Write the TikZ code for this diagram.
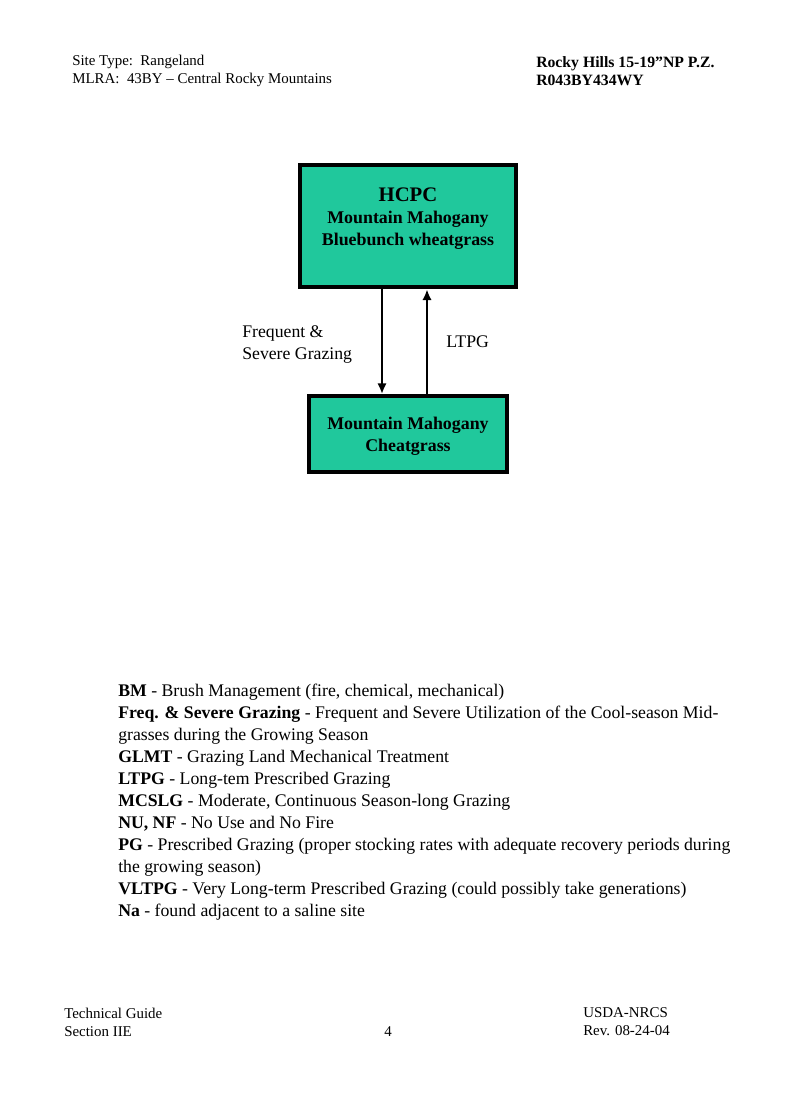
\documentclass[tikz,border=0pt]{standalone}
\usepackage{fontspec}
\setmainfont{Liberation Serif}
\usetikzlibrary{arrows.meta}
\definecolor{stategreen}{RGB}{32,200,156}

\begin{document}
\begin{tikzpicture}[x=0.75pt,y=-0.75pt,
    statebox/.style={draw,line width=3pt,fill=stategreen,inner sep=0pt},
    boxtext/.style={align=center,inner sep=0pt,
      font=\fontsize{13.4}{16.5}\selectfont\bfseries},
    trans/.style={line width=2pt,-{Latex[length=8pt,width=7pt]}},
    head/.style={anchor=west,align=left,inner sep=0pt,
      font=\fontsize{11.2}{13.5}\selectfont}]
  \useasboundingbox[fill=white] (0,0) rectangle (800,1108);
   \coordinate (Downx) at (382,0);
   \coordinate (Upx) at (427,0);
  % page header
  \node[head] (sitetype) at (72,71) {Site Type:\ \ Rangeland\\MLRA:\ \ 43BY -- Central Rocky Mountains};
  \node[head,font=\fontsize{11.8}{13.5}\selectfont\bfseries] (siteid) at (536,71) {Rocky Hills 15-19''NP P.Z.\\R043BY434WY};
  % states
  \node[statebox,minimum width=162pt,minimum height=92pt] (hcpc) at (408,226) {};
  \node[boxtext] (hcpctext) at (408,219)
    {{\fontsize{15.5}{18}\selectfont HCPC}\\Mountain Mahogany\\Bluebunch wheatgrass};
  \node[statebox,minimum width=148pt,minimum height=57pt] (cheat) at (408,434) {};
  \node[boxtext] (cheattext) at (408,436) {Mountain Mahogany\\Cheatgrass};
 \draw [trans] (hcpc.south -| Downx) -- (cheat.north -| Downx);
 \draw [trans] (cheat.north -| Upx) -- (hcpc.south -| Upx);
  \node[head,font=\fontsize{13.3}{16.5}\selectfont] (fsg) at (242,345) {Frequent \&\\Severe Grazing};
  \node[head,font=\fontsize{13.3}{16.5}\selectfont] (ltpg) at (446,342) {LTPG};
  % legend
  \node[head,anchor=north west,font=\fontsize{13.3}{16.5}\selectfont] (legend) at (118,684)
    {\textbf{BM} - Brush Management (fire, chemical, mechanical)\\
     \textbf{Freq. \& Severe Grazing} - Frequent and Severe Utilization of the Cool-season Mid-\\
     grasses during the Growing Season\\
     \textbf{GLMT} - Grazing Land Mechanical Treatment\\
     \textbf{LTPG} - Long-tem Prescribed Grazing\\
     \textbf{MCSLG} - Moderate, Continuous Season-long Grazing\\
     \textbf{NU, NF} - No Use and No Fire\\
     \textbf{PG} - Prescribed Grazing (proper stocking rates with adequate recovery periods during\\
     the growing season)\\
     \textbf{VLTPG} - Very Long-term Prescribed Grazing (could possibly take generations)\\
     \textbf{Na} - found adjacent to a saline site};
  % page footer
  \node[head] (guide) at (64,1022) {Technical Guide\\Section IIE};
  \node[head] (pageno) at (384,1032) {4};
  \node[head] (agency) at (583,1022) {USDA-NRCS\\Rev. 08-24-04};
\end{tikzpicture}
\end{document}
